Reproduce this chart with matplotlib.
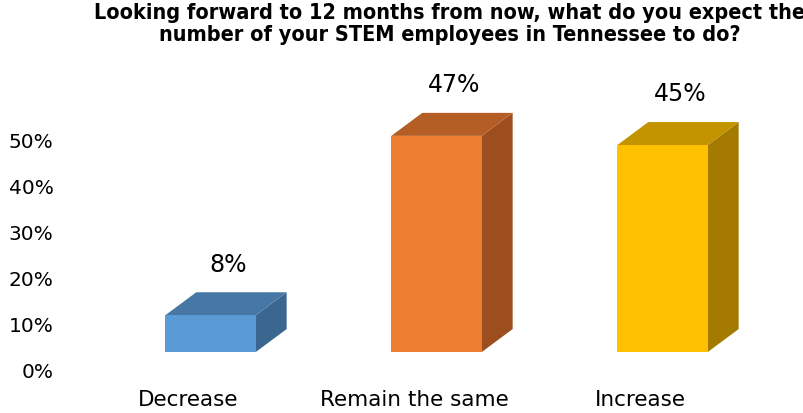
import matplotlib
matplotlib.use("Agg")
import matplotlib.pyplot as plt
from matplotlib.patches import Polygon

categories = ["Decrease", "Remain the same", "Increase"]
values = [8, 47, 45]
value_labels = ["8%", "47%", "45%"]
tick_values = [0, 10, 20, 30, 40, 50]
tick_labels = ["0%", "10%", "20%", "30%", "40%", "50%"]

front_colors = ["#5B9BD5", "#ED7D31", "#FFC000"]
top_colors = ["#4677A5", "#B45D24", "#C39300"]
side_colors = ["#3B6690", "#9C4E1E", "#A47B00"]

W, H, DPI = 804, 413, 100
fig = plt.figure(figsize=(W / DPI, H / DPI), dpi=DPI)
fig.patch.set_facecolor("white")

# axes in pixel-derived frame: 1 category = 226 px, 1 % = 4.6 px
left_px = 62
ax = fig.add_axes([left_px / W, 0, 1 - left_px / W, 1])
ax.set_xlim((left_px - 210.5) / 226, (W - 210.5) / 226)
ax.set_ylim((370 - H) / 4.6, 370 / 4.6)
ax.set_facecolor("none")
for s in ax.spines.values():
    s.set_visible(False)
ax.set_xticks([])
ax.set_yticks(tick_values)
ax.set_yticklabels(tick_labels, fontsize=14.5, color="#000000")
ax.tick_params(axis="y", length=0, pad=6)

bar_w = 0.40     # category units
base = 3.9       # front face floor, in %
dx, dy = 0.137, 5.0  # depth offset of the 3D box

for i, (v, fc, tc, sc) in enumerate(zip(values, front_colors, top_colors, side_colors)):
    x0, x1 = i - bar_w / 2, i + bar_w / 2
    top = base + v
    front = [(x0, base), (x1, base), (x1, top), (x0, top)]
    side = [(x1, base), (x1 + dx, base + dy), (x1 + dx, top + dy), (x1, top)]
    lid = [(x0, top), (x1, top), (x1 + dx, top + dy), (x0 + dx, top + dy)]
    ax.add_patch(Polygon(side, closed=True, facecolor=sc, edgecolor="none"))
    ax.add_patch(Polygon(lid, closed=True, facecolor=tc, edgecolor="none"))
    ax.add_patch(Polygon(front, closed=True, facecolor=fc, edgecolor="none"))
    ax.text(i + dx / 2 + 0.01, top + dy + 6.0, value_labels[i], ha="center", va="center",
            fontsize=17, color="#000000")
    ax.text(i - 0.1, -6.6, categories[i], ha="center", va="center",
            fontsize=15.5, color="#000000")

fig.text(450 / W, 1 - 24 / H,
         "Looking forward to 12 months from now, what do you expect the\n"
         "number of your STEM employees in Tennessee to do?",
         ha="center", va="center", fontsize=15.5, fontweight="bold",
         fontstretch="condensed", linespacing=1.12, color="#000000")

fig.savefig("out.png", dpi=DPI, facecolor="white")
